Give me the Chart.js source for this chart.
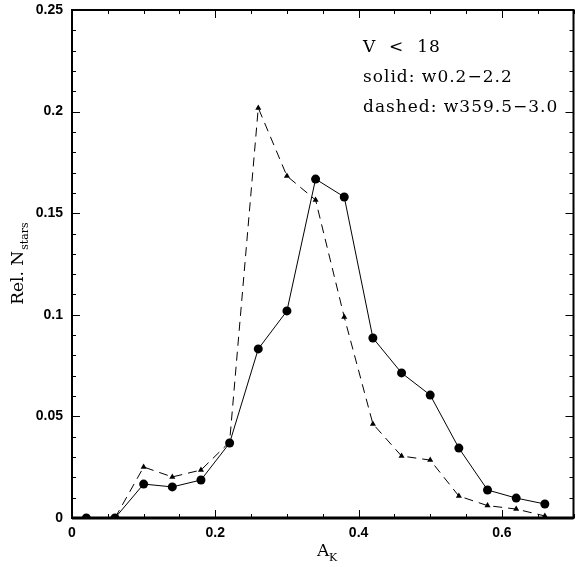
<!DOCTYPE html>
<html>
<head>
<meta charset="utf-8">
<script src="https://cdn.jsdelivr.net/npm/chart.js@4"></script>
<style>
  html, body { margin: 0; padding: 0; background: #fff; overflow: hidden; }
  #wrap { width: 578px; height: 567px; }
</style>
</head>
<body>
<div id="wrap"><canvas id="extChart" width="578" height="567"></canvas></div>
<script>
// A_K bin centres
const aK = [0.02, 0.06, 0.10, 0.14, 0.18, 0.22, 0.26, 0.30, 0.34, 0.38, 0.42, 0.46, 0.50, 0.54, 0.58, 0.62, 0.66];
// solid: w0.2-2.2 (circles)
const solidRel = [0, 0, 0.0167, 0.0153, 0.0187, 0.0369, 0.0832, 0.1019, 0.1668, 0.1580, 0.0886, 0.0714, 0.0605, 0.0344, 0.0138, 0.0098, 0.0069];
// dashed: w359.5-3.0 (triangles)
const dashedRel = [null, 0, 0.0251, 0.0202, 0.0236, 0.0374, 0.2018, 0.1683, 0.1565, 0.0989, 0.0463, 0.0305, 0.0285, 0.0108, 0.0061, 0.0044, 0.0010];

const xTickLabels = [0, 0.2, 0.4, 0.6];
const yTickLabels = [0, 0.05, 0.1, 0.15, 0.2, 0.25];
const notes = ["V  <  18", "solid: w0.2\u22122.2", "dashed: w359.5\u22123.0"];

const toPts = ys => aK.map((x, i) => ({ x: x, y: ys[i] }));

// no extra padding for half tick labels, so the box sits where we want it
const noPad = s => { s.paddingTop = 0; s.paddingBottom = 0; s.paddingLeft = 0; s.paddingRight = 0; };

// frame, inward ticks (major + minor on all four sides), titles, notes
const framePlugin = {
    id: "frame",
    afterDraw(chart) {
        const ctx = chart.ctx;
        const a = chart.chartArea;
        const xs = chart.scales.x, ys = chart.scales.y;
        ctx.save();
        ctx.strokeStyle = "#000";

        // ticks
        ctx.lineWidth = 1;
        ctx.beginPath();
        for (let i = 0; i <= 14; i++) {
            const v = i * 0.05;
            const px = Math.round(xs.getPixelForValue(v)) + 0.5;
            const len = (i % 4 === 0) ? 8 : 4;
            ctx.moveTo(px, a.bottom); ctx.lineTo(px, a.bottom - len);
            ctx.moveTo(px, a.top); ctx.lineTo(px, a.top + len);
        }
        for (let i = 0; i <= 25; i++) {
            const v = i * 0.01;
            const py = Math.round(ys.getPixelForValue(v)) + 0.5;
            const len = (i % 5 === 0) ? 8 : 4;
            ctx.moveTo(a.left, py); ctx.lineTo(a.left + len, py);
            ctx.moveTo(a.right, py); ctx.lineTo(a.right - len, py);
        }
        ctx.stroke();

        // frame
        ctx.lineWidth = 2;
        ctx.strokeRect(a.left, a.top, a.right - a.left, a.bottom - a.top);
        ctx.lineWidth = 3;
        ctx.beginPath();
        ctx.moveTo(a.left, a.bottom); ctx.lineTo(a.right, a.bottom);
        ctx.stroke();

        // x title A_K
        ctx.fillStyle = "#000";
        ctx.textBaseline = "alphabetic";
        ctx.textAlign = "left";
        ctx.font = "17px 'DejaVu Serif'";
        ctx.fillText("A", 317, 556);
        ctx.font = "11px 'DejaVu Serif'";
        ctx.fillText("K", 329, 561);

        // y title Rel. N_stars
        ctx.translate(23, 264);
        ctx.rotate(-Math.PI / 2);
        const main = "Rel. N";
        ctx.font = "11px 'DejaVu Serif'";
        const subW = ctx.measureText("stars").width;
        ctx.font = "17px 'DejaVu Serif'";
        const mainW = ctx.measureText(main).width;
        const start = -(mainW + subW) / 2;
        ctx.fillText(main, start, 0);
        ctx.font = "11px 'DejaVu Serif'";
        ctx.fillText("stars", start + mainW + 1, 5);
        ctx.setTransform(1, 0, 0, 1, 0, 0);

        // notes
        ctx.font = "17px 'DejaVu Serif'";
        ctx.letterSpacing = "1px";
        notes.forEach((t, i) => ctx.fillText(t, 363, 52 + i * 30));

        ctx.restore();
    }
};

new Chart(document.getElementById("extChart"), {
    type: "scatter",
    data: {
        datasets: [
            {
                label: "solid",
                data: toPts(solidRel),
                showLine: true,
                borderColor: "#000",
                borderWidth: 1,
                backgroundColor: "#000",
                pointStyle: "circle",
                pointRadius: 4.5,
                pointBorderWidth: 0
            },
            {
                label: "dashed",
                data: toPts(dashedRel),
                showLine: true,
                borderColor: "#000",
                borderWidth: 1,
                borderDash: [9, 6],
                backgroundColor: "#000",
                pointStyle: "triangle",
                pointRadius: 3.5,
                pointBorderWidth: 0
            }
        ]
    },
    options: {
        responsive: false,
        animation: false,
        // the right edge of the box lies just past the window, as in the original
        layout: { padding: { top: 10, right: -1.5, left: 0, bottom: 0 } },
        plugins: { legend: { display: false }, tooltip: { enabled: false } },
        scales: {
            x: {
                type: "linear",
                min: 0,
                max: 0.7,
                grid: { display: false, drawTicks: false },
                border: { display: false },
                afterFit: s => { s.height = 49; noPad(s); },
                afterBuildTicks: s => { s.ticks = xTickLabels.map(v => ({ value: v })); },
                ticks: {
                    padding: 7,
                    color: "#000",
                    font: { family: "'Liberation Sans'", size: 14, weight: "bold" },
                    callback: v => String(+v.toFixed(2))
                }
            },
            y: {
                min: 0,
                max: 0.25,
                grid: { display: false, drawTicks: false },
                border: { display: false },
                afterFit: s => { s.width = 72; noPad(s); },
                afterBuildTicks: s => { s.ticks = yTickLabels.map(v => ({ value: v })); },
                ticks: {
                    padding: 9,
                    color: "#000",
                    font: { family: "'Liberation Sans'", size: 14, weight: "bold" },
                    callback: v => String(+v.toFixed(2))
                }
            }
        }
    },
    plugins: [framePlugin]
});
</script>
</body>
</html>
